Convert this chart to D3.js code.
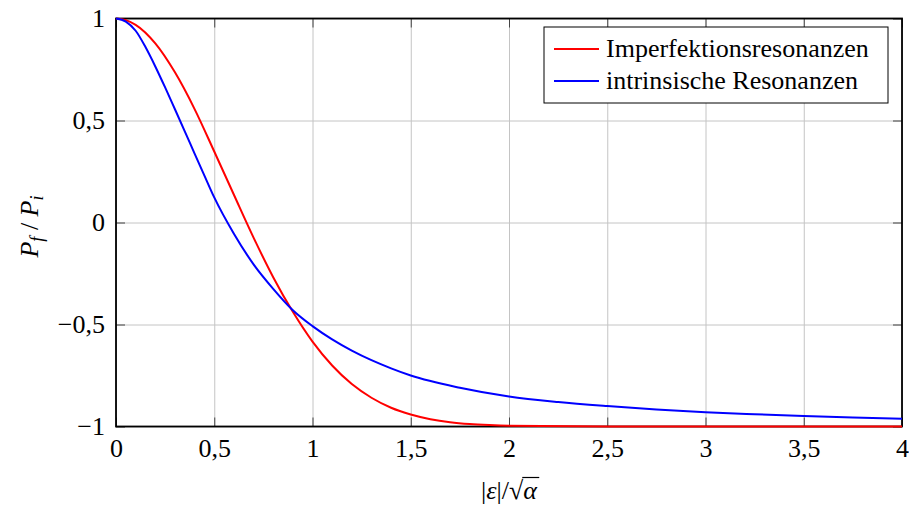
<!DOCTYPE html>
<html>
<head>
<meta charset="utf-8">
<script src="https://d3js.org/d3.v7.min.js"></script>
<style>
  body { margin: 0; background: #fff; }
  svg text { font-family: "Liberation Serif", "DejaVu Serif", serif; fill: #000; }
</style>
</head>
<body>
<svg id="vis1" width="909" height="510"></svg>
<script>
// values
var epsRed = [0, 0.05, 0.1, 0.2, 0.3, 0.4, 0.5, 0.6, 0.7, 0.8, 0.9, 1.0, 1.1, 1.2, 1.3, 1.4, 1.5, 1.6, 1.7, 1.8, 1.9, 2.0, 2.5, 3.0, 3.5, 4.0];
var imperfektion = [1, 0.992, 0.969, 0.878, 0.736, 0.556, 0.348, 0.136, -0.074, -0.268, -0.438, -0.584, -0.701, -0.792, -0.859, -0.908, -0.941, -0.964, -0.979, -0.988, -0.993, -0.996, -1, -1, -1, -1];

var epsBlue = [0, 0.05, 0.1, 0.15, 0.2, 0.25, 0.3, 0.35, 0.4, 0.45, 0.5, 0.6, 0.7, 0.8, 0.9, 1.0, 1.1, 1.2, 1.3, 1.4, 1.5, 1.75, 2.0, 2.25, 2.5, 2.75, 3.0, 3.25, 3.5, 3.75, 4.0];
var intrinsisch = [1, 0.985, 0.94, 0.86, 0.765, 0.662, 0.555, 0.447, 0.338, 0.23, 0.123, -0.055, -0.205, -0.325, -0.43, -0.508, -0.573, -0.628, -0.675, -0.715, -0.75, -0.81, -0.853, -0.88, -0.90, -0.917, -0.93, -0.94, -0.949, -0.956, -0.962];

var xTicks = [0, 0.5, 1, 1.5, 2, 2.5, 3, 3.5, 4];
var yTicks = [-1, -0.5, 0, 0.5, 1];
var seriesNames = ["Imperfektionsresonanzen", "intrinsische Resonanzen"];
var seriesColors = ["#ff0000", "#0000ff"];

var svg = d3.select("svg#vis1");

var margin = { top: 18.5, right: 7, bottom: 83.5, left: 116 };
var plotWidth = 909 - margin.left - margin.right;
var plotHeight = 510 - margin.top - margin.bottom;
var fontSize = 26;

var x = d3.scaleLinear().domain([0, 4]).range([0, plotWidth]);
var y = d3.scaleLinear().domain([-1, 1]).range([plotHeight, 0]);

var fmt = function (d) {
    return (d < 0 ? "\u2212" : "") + String(Math.abs(d)).replace(".", ",");
};

var plot = svg.append("g")
    .attr("transform", "translate(" + margin.left + "," + margin.top + ")");

// grid
var gx = plot.append("g")
    .attr("transform", "translate(0," + plotHeight + ")")
    .call(d3.axisBottom(x).tickValues(xTicks).tickSize(-plotHeight).tickFormat(""));
var gy = plot.append("g")
    .call(d3.axisLeft(y).tickValues(yTicks).tickSize(-plotWidth).tickFormat(""));
[gx, gy].forEach(function (g) {
    g.select(".domain").remove();
    g.selectAll("line").attr("stroke", "#c4c4c4").attr("stroke-width", 1);
});

// inner ticks on all four sides
var tickLen = 9;
var axes = [
    { ax: d3.axisBottom(x).tickValues(xTicks), tr: "translate(0," + plotHeight + ")", labels: true, pad: 12 },
    { ax: d3.axisTop(x).tickValues(xTicks), tr: "translate(0,0)", labels: false, pad: 0 },
    { ax: d3.axisLeft(y).tickValues(yTicks), tr: "translate(0,0)", labels: true, pad: 11 },
    { ax: d3.axisRight(y).tickValues(yTicks), tr: "translate(" + plotWidth + ",0)", labels: false, pad: 0 }
];
axes.forEach(function (a) {
    var g = plot.append("g").attr("transform", a.tr)
        .call(a.ax.tickSize(-tickLen).tickPadding(a.pad).tickFormat(a.labels ? fmt : ""));
    g.select(".domain").remove();
    g.selectAll("line").attr("stroke", "#444").attr("stroke-width", 1);
    g.selectAll("text").style("font-size", fontSize + "px").style("font-family", "Liberation Serif");
});

// frame
plot.append("rect")
    .attr("x", 0).attr("y", 0)
    .attr("width", plotWidth).attr("height", plotHeight)
    .attr("fill", "none").attr("stroke", "#000").attr("stroke-width", 1.8);

// curves
var line = d3.line()
    .x(function (d) { return x(d[0]); })
    .y(function (d) { return y(d[1]); })
    .curve(d3.curveMonotoneX);

var series = [
    d3.zip(epsRed, imperfektion),
    d3.zip(epsBlue, intrinsisch)
];
series.forEach(function (s, i) {
    plot.append("path")
        .datum(s)
        .attr("fill", "none")
        .attr("stroke", seriesColors[i])
        .attr("stroke-width", 2)
        .attr("d", line);
});

// legend
var legend = svg.append("g").attr("transform", "translate(544,27)");
legend.append("rect")
    .attr("width", 344).attr("height", 76)
    .attr("fill", "#fff").attr("stroke", "#000").attr("stroke-width", 1);
seriesNames.forEach(function (name, i) {
    var ly = 22 + i * 32;
    legend.append("line")
        .attr("x1", 10).attr("x2", 55)
        .attr("y1", ly).attr("y2", ly)
        .attr("stroke", seriesColors[i]).attr("stroke-width", 2);
    legend.append("text")
        .attr("x", 62).attr("y", ly + 7.5)
        .style("font-size", fontSize + "px")
        .text(name);
});

// x axis title: |eps| / sqrt(alpha)
var xt = svg.append("text")
    .attr("x", margin.left + plotWidth / 2)
    .attr("y", 499)
    .style("text-anchor", "middle")
    .style("font-size", fontSize + "px");
xt.append("tspan").text("|");
xt.append("tspan").style("font-style", "italic").text("\u03b5");
xt.append("tspan").text("|/\u221a");
var alpha = xt.append("tspan").style("font-style", "italic").text("\u03b1");
var ab = alpha.node().getBBox();
svg.append("line")
    .attr("x1", ab.x - 1).attr("x2", ab.x + ab.width + 1)
    .attr("y1", ab.y + 1.5).attr("y2", ab.y + 1.5)
    .attr("stroke", "#000").attr("stroke-width", 1.2);

// y axis title: P_f / P_i
var yt = svg.append("text")
    .attr("transform", "translate(38," + (margin.top + plotHeight / 2 + 4) + ") rotate(-90)")
    .style("text-anchor", "middle")
    .style("font-size", fontSize + "px");
yt.append("tspan").style("font-style", "italic").text("P");
yt.append("tspan").style("font-style", "italic").style("font-size", "18px").attr("dy", 5).text("f");
yt.append("tspan").attr("dy", -5).text(" / ");
yt.append("tspan").style("font-style", "italic").text("P");
yt.append("tspan").style("font-style", "italic").style("font-size", "18px").attr("dy", 5).text("i");
</script>
</body>
</html>
